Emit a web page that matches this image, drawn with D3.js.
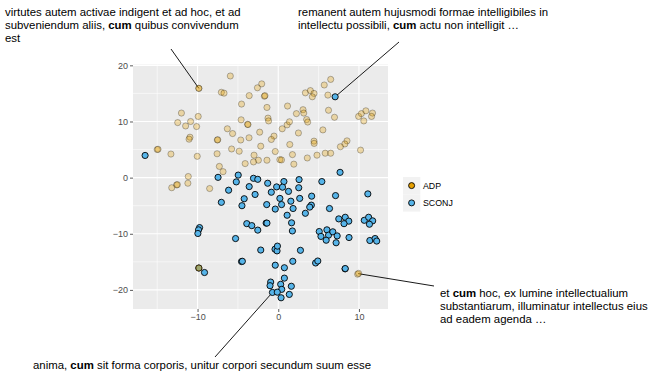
<!DOCTYPE html>
<html>
<head>
<meta charset="utf-8">
<script src="https://cdn.jsdelivr.net/npm/d3@7"></script>
<style>
  body { margin: 0; background: #fff; }
  svg { display: block; font-family: "Liberation Sans", Arial, sans-serif; }
</style>
</head>
<body>
<svg id="viz"></svg>
<script>
// data (t-SNE-ish embedding of "cum" usages)
const adpPoints = [
  [-9.84, 15.9], [-9.84, 15.9], [-5.94, 18.1], [-7.05, 15.2], [-6.72, 15.05], [-2.05, 16.7],
  [-2.58, 16.0], [-3.6, 14.6], [-1.72, 14.5], [-1.65, 14.6], [-4.55, 13.1], [-1.4, 12.5],
  [1.15, 12.75], [2.25, 11.4], [3.07, 12.1], [3.16, 11.5], [3.36, 15.1], [3.98, 15.5],
  [4.43, 15.0], [4.22, 14.4], [5.7, 16.5], [6.5, 17.5], [6.15, 14.7], [6.23, 12.0],
  [6.97, 10.75], [9.96, 10.9], [10.3, 11.4], [10.86, 11.9], [11.68, 11.5], [11.56, 10.9],
  [10.6, 10.1], [-12.0, 11.5], [-12.46, 9.8], [-11.48, 9.2], [-10.86, 10.0], [-9.92, 10.9],
  [-10.12, 9.1], [-6.31, 8.7], [-5.66, 7.85], [-10.94, 7.2], [-11.05, 6.85], [-7.55, 6.7],
  [-7.5, 6.75], [-4.6, 10.3], [-3.8, 9.5], [-3.75, 9.45], [-4.65, 6.7], [-3.62, 7.1],
  [-2.3, 8.1], [-1.27, 10.6], [-1.2, 10.1], [-0.53, 7.4], [-0.86, 6.8], [0.49, 8.7],
  [1.1, 9.4], [1.39, 9.95], [2.5, 7.95], [3.52, 10.35], [3.65, 9.9], [5.53, 8.5],
  [4.43, 6.5], [4.45, 6.1], [8.52, 6.55], [8.25, 6.0], [7.7, 5.5], [10.2, 4.9],
  [1.43, 5.9], [-15.0, 5.0], [-14.9, 5.05], [-13.3, 4.2], [-10.04, 3.8], [-7.58, 4.25],
  [-5.78, 5.1], [-4.84, 4.7], [-2.17, 5.6], [-0.37, 4.65], [-3.0, 4.0], [-2.46, 3.1],
  [-3.07, 2.8], [-4.1, 2.5], [-1.4, 3.1], [0.2, 3.2], [0.4, 3.15], [1.76, 4.1],
  [1.93, 2.4], [3.6, 3.5], [4.8, 4.0], [5.82, 4.35], [6.5, 4.35], [-7.3, 2.0],
  [-6.84, 1.06], [-11.15, 0.2], [-11.2, -1.0], [-12.6, -1.3], [-12.5, -1.25], [-13.2, -1.8],
  [-8.5, -1.94], [-9.84, -16.1], [-9.84, -16.1], [9.84, -17.2], [9.96, -17.05]
];

const sconjPoints = [
  [7.05, 14.4], [-16.5, 3.95], [7.66, 0.94], [-7.46, 0.05], [-4.96, 0.45], [-5.2, -0.76],
  [-3.07, -0.12], [-2.54, -0.3], [-3.6, -1.6], [-6.15, -2.24], [-1.31, -1.0], [0.7, -0.7],
  [-0.2, -1.65], [0.53, -1.7], [2.58, -0.35], [2.54, -1.8], [1.27, -2.45], [-0.86, -2.6],
  [-2.87, -3.0], [-4.22, -3.76], [-7.05, -4.4], [-4.5, -5.0], [0.2, -3.7], [1.56, -4.2],
  [2.66, -3.7], [4.14, -3.3], [7.1, -3.2], [5.4, -0.7], [11.1, -2.9], [-1.43, -4.8],
  [0.41, -4.8], [-0.37, -5.6], [1.84, -5.5], [4.1, -4.9], [3.9, -5.25], [6.35, -5.5],
  [1.1, -6.7], [3.36, -6.35], [7.5, -7.35], [8.3, -7.06], [8.74, -7.75], [8.15, -8.2],
  [10.66, -7.6], [11.2, -7.06], [11.7, -7.7], [11.3, -8.3], [-3.9, -8.2], [-3.28, -8.55],
  [-2.54, -9.35], [-1.5, -8.1], [-1.4, -8.1], [1.65, -8.05], [1.75, -9.5], [-9.75, -8.9],
  [-9.88, -9.3], [-9.96, -9.95], [5.08, -9.6], [5.29, -10.47], [6.03, -9.3], [6.23, -10.25],
  [6.76, -9.65], [5.94, -11.15], [7.17, -11.6], [7.3, -10.38], [8.77, -10.67], [11.35, -11.2],
  [12.0, -10.85], [12.2, -11.3], [-5.29, -10.85], [-2.17, -12.9], [-0.4, -12.75], [-0.15, -13.05],
  [-0.1, -12.2], [2.75, -12.95], [-4.55, -14.95], [-4.45, -14.9], [-0.37, -15.6], [0.76, -16.05],
  [1.8, -14.9], [4.63, -15.2], [4.9, -14.85], [8.28, -16.25], [8.3, -16.2], [0.76, -17.9],
  [-0.94, -18.6], [-1.02, -19.25], [0.3, -19.0], [0.43, -19.9], [1.62, -19.35], [1.37, -20.8],
  [-0.72, -20.45], [-0.12, -20.4], [0.35, -21.4], [-9.14, -16.9], [-9.84, -16.1]
];

const xTicks = [-10, 0, 10];
const yTicks = [-20, -10, 0, 10, 20];
const xMinor = [-15, -5, 5];
const yMinor = [-15, -5, 5, 15];
const legendLabels = ["ADP", "SCONJ"];
const legendColors = ["#E69F00", "#56B4E9"];

// annotated examples: target point + text lines (segments of [text, bold])
const annotations = [
  { point: [-9.84, 15.9], lines: [
      [["virtutes autem activae indigent et ad hoc, et ad", false]],
      [["subveniendum aliis, ", false], ["cum", true], [" quibus convivendum", false]],
      [["est", false]]] },
  { point: [7.05, 14.4], lines: [
      [["remanent autem hujusmodi formae intelligibiles in", false]],
      [["intellectu possibili, ", false], ["cum", true], [" actu non intelligit …", false]]] },
  { point: [9.9, -17.1], lines: [
      [["et ", false], ["cum", true], [" hoc, ex lumine intellectualium", false]],
      [["substantiarum, illuminatur intellectus eius", false]],
      [["ad eadem agenda …", false]]] },
  { point: [-0.72, -20.45], lines: [
      [["anima, ", false], ["cum", true], [" sit forma corporis, unitur corpori secundum suum esse", false]]] }
];
// label placement (text anchor corner, segment start)
const labelPos = [
  { x: 5, y: 16, sx: 171, sy: 49 },
  { x: 298, y: 16, sx: 399, sy: 42 },
  { x: 440, y: 297, sx: 434, sy: 286 },
  { x: 33, y: 369, sx: 215, sy: 357 }
];

const width = 663, height = 383;
const panel = { left: 133, right: 388, top: 64.5, bottom: 309 };

const svg = d3.select("#viz").attr("width", width).attr("height", height);

const x = d3.scaleLinear().domain([-18, 13.6]).range([panel.left, panel.right]);
const y = d3.scaleLinear().domain([-23.4, 20.15]).range([panel.bottom, panel.top]);

// panel background
svg.append("rect")
  .attr("x", panel.left).attr("y", panel.top)
  .attr("width", panel.right - panel.left).attr("height", panel.bottom - panel.top)
  .attr("fill", "#EBEBEB");

// grid
const grid = svg.append("g");
grid.selectAll(".vmin").data(xMinor).enter().append("line")
  .attr("x1", d => x(d)).attr("x2", d => x(d))
  .attr("y1", panel.top).attr("y2", panel.bottom)
  .attr("stroke", "#fff").attr("stroke-width", 0.55);
grid.selectAll(".hmin").data(yMinor).enter().append("line")
  .attr("y1", d => y(d)).attr("y2", d => y(d))
  .attr("x1", panel.left).attr("x2", panel.right)
  .attr("stroke", "#fff").attr("stroke-width", 0.55);
grid.selectAll(".vmaj").data(xTicks).enter().append("line")
  .attr("x1", d => x(d)).attr("x2", d => x(d))
  .attr("y1", panel.top).attr("y2", panel.bottom)
  .attr("stroke", "#fff").attr("stroke-width", 1.1);
grid.selectAll(".hmaj").data(yTicks).enter().append("line")
  .attr("y1", d => y(d)).attr("y2", d => y(d))
  .attr("x1", panel.left).attr("x2", panel.right)
  .attr("stroke", "#fff").attr("stroke-width", 1.1);

// axes
const xAxis = svg.append("g")
  .attr("transform", `translate(0,${panel.bottom})`)
  .call(d3.axisBottom(x).tickValues(xTicks).tickSize(3).tickPadding(2));
const yAxis = svg.append("g")
  .attr("transform", `translate(${panel.left},0)`)
  .call(d3.axisLeft(y).tickValues(yTicks).tickSize(3).tickPadding(2));
[xAxis, yAxis].forEach(a => {
  a.select(".domain").remove();
  a.selectAll(".tick line").attr("stroke", "#333").attr("stroke-width", 0.8);
  a.selectAll(".tick text")
    .attr("fill", "#4D4D4D")
    .style("font-family", "Liberation Sans, Arial, sans-serif")
    .style("font-size", "9px");
});

// annotation segments (under the points)
annotations.forEach((a, i) => {
  svg.append("line")
    .attr("x1", labelPos[i].sx).attr("y1", labelPos[i].sy)
    .attr("x2", x(a.point[0])).attr("y2", y(a.point[1]))
    .attr("stroke", "#000").attr("stroke-width", 0.9);
});

// points
svg.append("g").selectAll("circle").data(sconjPoints).enter().append("circle")
  .attr("cx", d => x(d[0])).attr("cy", d => y(d[1])).attr("r", 3.1)
  .attr("fill", "#56B4E9").attr("stroke", "#000").attr("stroke-width", 0.9);

svg.append("g").selectAll("circle").data(adpPoints).enter().append("circle")
  .attr("cx", d => x(d[0])).attr("cy", d => y(d[1])).attr("r", 3.1)
  .attr("fill", "#E69F00").attr("fill-opacity", 0.3)
  .attr("stroke", "#000").attr("stroke-opacity", 0.3).attr("stroke-width", 0.9);

// legend
const legend = svg.append("g").attr("transform", "translate(403,177)");
legendLabels.forEach((lab, i) => {
  const g = legend.append("g").attr("transform", `translate(0,${i * 17.3})`);
  g.append("rect").attr("width", 17.3).attr("height", 17.3).attr("fill", "#F2F2F2");
  g.append("circle").attr("cx", 8.6).attr("cy", 8.6).attr("r", 3)
    .attr("fill", legendColors[i]).attr("stroke", "#000").attr("stroke-width", 0.9);
  g.append("text").attr("x", 20).attr("y", 8.6).attr("dy", "0.35em")
    .style("font-size", "8.8px").attr("fill", "#000").text(lab);
});

// annotation texts
annotations.forEach((a, i) => {
  const t = svg.append("text")
    .attr("x", labelPos[i].x).attr("y", labelPos[i].y)
    .style("font-size", "11.4px").attr("fill", "#000");
  a.lines.forEach((line, j) => {
    line.forEach((seg, k) => {
      const ts = t.append("tspan").text(seg[0])
        .style("font-weight", seg[1] ? "bold" : "normal");
      if (k === 0) ts.attr("x", labelPos[i].x).attr("dy", j === 0 ? 0 : 13);
    });
  });
});
</script>
</body>
</html>
